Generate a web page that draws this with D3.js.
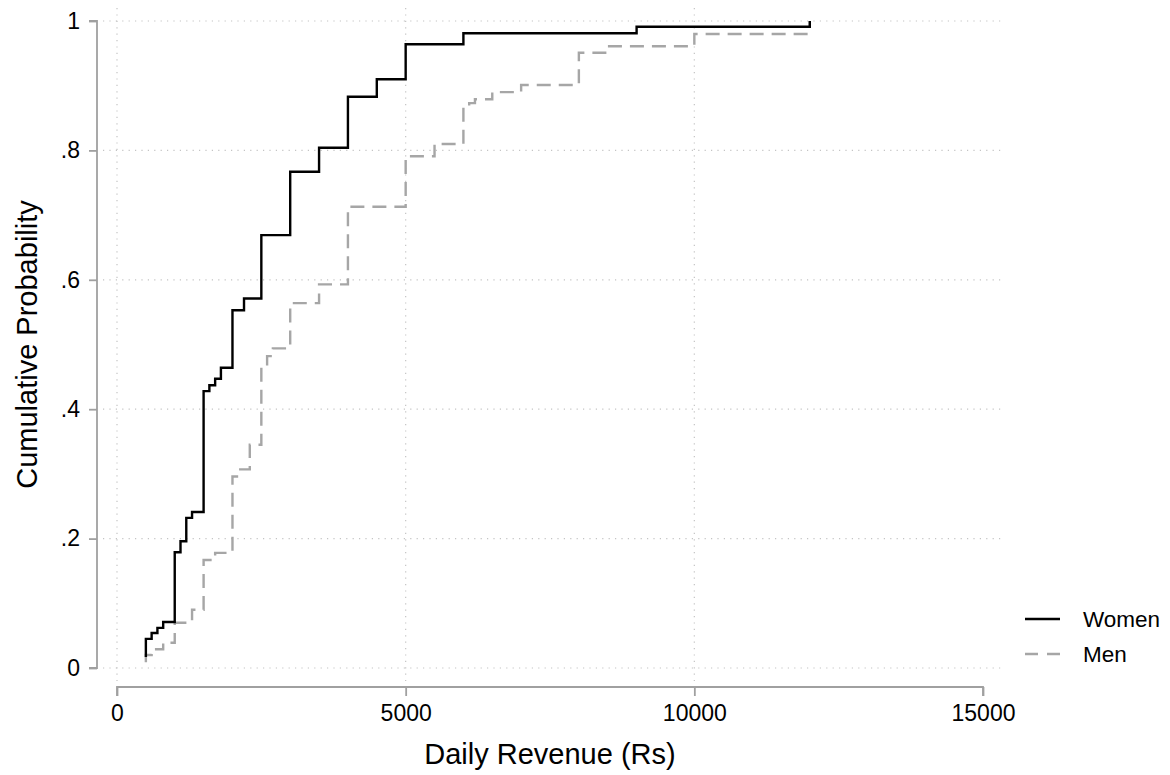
<!DOCTYPE html>
<html>
<head>
<meta charset="utf-8">
<script src="https://cdn.jsdelivr.net/npm/d3@7"></script>
<style>
  html, body { margin: 0; padding: 0; background: #fff; }
  svg { display: block; font-family: "Liberation Sans", Arial, Helvetica, sans-serif; }
</style>
</head>
<body>
<svg id="chart" width="1170" height="775"></svg>
<script>
// ---- data ----
const womenRevenue = [500, 500, 600, 700, 800, 1000, 1100, 1200, 1300, 1500, 1600, 1700, 1800, 2000, 2200, 2500, 3000, 3500, 4000, 4500, 5000, 6000, 9000, 12000];
const womenCumProb = [0.017, 0.045, 0.054, 0.062, 0.071, 0.179, 0.196, 0.232, 0.241, 0.428, 0.437, 0.447, 0.464, 0.553, 0.571, 0.669, 0.767, 0.804, 0.883, 0.910, 0.964, 0.981, 0.991, 1.0];

const menRevenue = [500, 500, 600, 800, 1000, 1300, 1500, 1700, 2000, 2100, 2300, 2500, 2600, 2700, 3000, 3500, 4000, 5000, 5500, 6000, 6100, 6200, 6500, 7000, 8000, 8500, 10000, 12000];
const menCumProb = [0.009, 0.020, 0.029, 0.039, 0.070, 0.090, 0.167, 0.178, 0.296, 0.307, 0.345, 0.465, 0.482, 0.494, 0.564, 0.593, 0.713, 0.791, 0.810, 0.867, 0.873, 0.879, 0.890, 0.901, 0.951, 0.961, 0.980, 1.0];

const xTicks = [0, 5000, 10000, 15000];
const xGridTicks = [0, 5000, 10000];
const yTicks = [0, 0.2, 0.4, 0.6, 0.8, 1];
const yTickLabels = ["0", ".2", ".4", ".6", ".8", "1"];
const seriesNames = ["Women", "Men"];

// ---- layout ----
const svg = d3.select("#chart");
const x = d3.scaleLinear().domain([0, 15000]).range([117, 983]);
const y = d3.scaleLinear().domain([0, 1]).range([668, 21]);

const gridColor = "#c4c4c4";
const axisColor = "#a0a0a0";
const menColor = "#a6a6a6";

// plot region extents for grid lines
const gx0 = 103, gx1 = 1001, gy0 = 8, gy1 = 681;

// grid
const grid = svg.append("g");
grid.selectAll("line.hg").data(yTicks).enter().append("line")
  .attr("x1", gx0).attr("x2", gx1)
  .attr("y1", d => y(d)).attr("y2", d => y(d))
  .attr("stroke", gridColor).attr("stroke-width", 1.2)
  .attr("stroke-dasharray", "1.2,5.2");
grid.selectAll("line.vg").data(xGridTicks).enter().append("line")
  .attr("x1", d => x(d)).attr("x2", d => x(d))
  .attr("y1", gy0).attr("y2", gy1)
  .attr("stroke", gridColor).attr("stroke-width", 1.2)
  .attr("stroke-dasharray", "1.2,5.2");

// y axis
const yAxis = d3.axisLeft(y).tickValues(yTicks).tickFormat((d, i) => yTickLabels[i]).tickSize(8).tickPadding(9);
const gy = svg.append("g").attr("transform", "translate(97,0)").call(yAxis);
gy.select(".domain").attr("stroke", axisColor).attr("stroke-width", 1.8).attr("d", `M-8,${y(1)}H0V${y(0)}H-8`);
gy.selectAll(".tick line").attr("stroke", axisColor).attr("stroke-width", 1.8);
gy.selectAll(".tick text").attr("fill", "#000").style("font-size", "23px");

// x axis
const xAxis = d3.axisBottom(x).tickValues(xTicks).tickFormat(d3.format("d")).tickSize(9).tickPadding(9);
const gxA = svg.append("g").attr("transform", "translate(0,687)").call(xAxis);
gxA.select(".domain").attr("stroke", axisColor).attr("stroke-width", 1.8).attr("d", `M${x(0)},9V0H${x(15000)}V9`);
gxA.selectAll(".tick line").attr("stroke", axisColor).attr("stroke-width", 1.8);
gxA.selectAll(".tick text").attr("fill", "#000").style("font-size", "23px");

// titles
svg.append("text").attr("x", x(7500)).attr("y", 764).attr("text-anchor", "middle")
  .style("font-size", "29px").attr("fill", "#000").text("Daily Revenue (Rs)");
svg.append("text").attr("transform", `translate(37,${y(0.5)}) rotate(-90)`).attr("text-anchor", "middle")
  .style("font-size", "29px").attr("fill", "#000").text("Cumulative Probability");

// lines
const line = d3.line().x(d => x(d[0])).y(d => y(d[1])).curve(d3.curveStepAfter);
const womenPts = womenRevenue.map((v, i) => [v, womenCumProb[i]]);
const menPts = menRevenue.map((v, i) => [v, menCumProb[i]]);

svg.append("path").datum(menPts).attr("d", line)
  .attr("fill", "none").attr("stroke", menColor).attr("stroke-width", 2.4)
  .attr("stroke-dasharray", "14,8");
svg.append("path").datum(womenPts).attr("d", line)
  .attr("fill", "none").attr("stroke", "#000").attr("stroke-width", 2.4);

// legend
const legend = svg.append("g");
const legY = [619, 654];
legend.append("line").attr("x1", 1025).attr("x2", 1060).attr("y1", legY[0]).attr("y2", legY[0])
  .attr("stroke", "#000").attr("stroke-width", 2.4);
legend.append("line").attr("x1", 1025).attr("x2", 1060).attr("y1", legY[1]).attr("y2", legY[1])
  .attr("stroke", menColor).attr("stroke-width", 2.4).attr("stroke-dasharray", "13,9");
legend.selectAll("text").data(seriesNames).enter().append("text")
  .attr("x", 1083).attr("y", (d, i) => legY[i] + 8)
  .style("font-size", "22.5px").attr("fill", "#000").text(d => d);
</script>
</body>
</html>
